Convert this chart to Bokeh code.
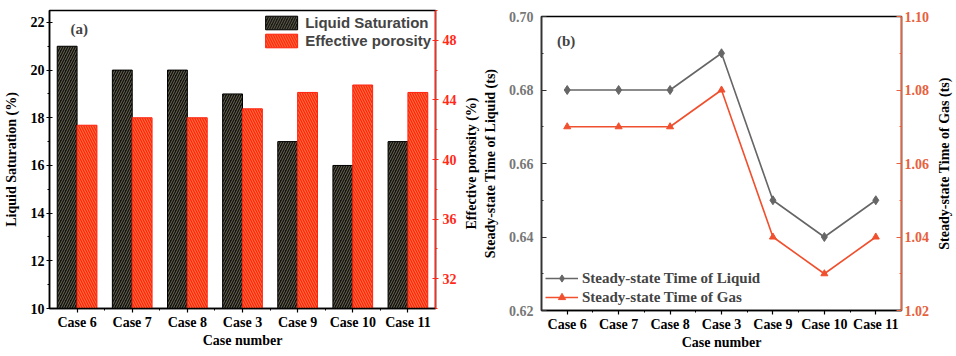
import math
from bokeh.plotting import figure
from bokeh.models import (Range1d, LinearAxis, FixedTicker, ColumnDataSource,
                          Label, Legend, Spacer, PrintfTickFormatter, Title)
from bokeh.layouts import row, column
from bokeh.transform import dodge
from bokeh.embed import file_html
from bokeh.resources import INLINE

cases = ["Case 6", "Case 7", "Case 8", "Case 3", "Case 9", "Case 10", "Case 11"]
liquid_saturation = [21, 20, 20, 19, 17, 16, 17]
effective_porosity = [42.3, 42.8, 42.8, 43.4, 44.5, 45.0, 44.5]
t_liquid = [0.68, 0.68, 0.68, 0.69, 0.65, 0.64, 0.65]
t_gas = [1.07, 1.07, 1.07, 1.08, 1.04, 1.03, 1.04]

pos = list(range(1, len(cases) + 1))
overrides = {p: c for p, c in zip(pos, cases)}
minor_x = [p + 0.5 for p in pos[:-1]]

SERIF = "Liberation Serif"
SANS = "Liberation Sans"

src = ColumnDataSource(dict(x=pos, ls=liquid_saturation, ep=effective_porosity,
                            tl=t_liquid, tg=t_gas))


def style_common(p):
    p.xgrid.visible = False
    p.ygrid.visible = False
    p.outline_line_color = "black"
    p.outline_line_width = 1.5
    p.background_fill_color = "white"
    p.border_fill_color = "white"


def style_axis(ax, color="black", label_color="black", tick_in=3, tick_out=3):
    ax.axis_line_color = color
    ax.axis_line_width = 1.5
    ax.major_tick_line_color = color
    ax.minor_tick_line_color = color
    ax.major_tick_line_width = 1.2
    ax.major_tick_in = tick_in
    ax.major_tick_out = tick_out
    ax.minor_tick_in = 0 if tick_out else 2
    ax.minor_tick_out = 2 if tick_out else 0
    ax.major_label_text_font = SERIF
    ax.major_label_text_font_style = "bold"
    ax.major_label_text_font_size = "14px"
    ax.major_label_text_color = label_color
    ax.major_label_standoff = 2
    ax.axis_label_text_font = SERIF
    ax.axis_label_text_font_style = "bold"
    ax.axis_label_text_font_size = "14px"
    ax.axis_label_text_color = "black"
    ax.axis_label_standoff = 2


def side_title(text):
    return Title(text=text, align="center", text_font=SERIF, text_font_style="bold",
                 text_font_size="14px", text_color="black", standoff=1, offset=0)


# ---------------- Panel (a) ----------------
p1 = figure(width=461, height=350, x_range=Range1d(0.5, 7.5), y_range=Range1d(10, 22.5),
            output_backend="svg", toolbar_location=None,
            min_border_left=48, min_border_right=26, min_border_top=10, min_border_bottom=42)
style_common(p1)
p1.extra_y_ranges = {"por": Range1d(30, 50)}

bw = 0.36
r1 = p1.vbar(x=dodge("x", -bw / 2, range=p1.x_range), top="ls", bottom=10, width=bw, source=src,
             fill_color="#111111", line_color="black",
             hatch_pattern="/", hatch_color="#6e6a52", hatch_scale=5, hatch_weight=1.0)
r2 = p1.vbar(x=dodge("x", bw / 2, range=p1.x_range), top="ep", bottom=30, width=bw, source=src,
             y_range_name="por",
             fill_color="#ff2410", line_color="#ff2410",
             hatch_pattern="\\", hatch_color="#ff7a40", hatch_scale=5, hatch_weight=1.0)

xa = p1.xaxis[0]
style_axis(xa, tick_in=0, tick_out=4)
xa.ticker = FixedTicker(ticks=pos, minor_ticks=minor_x)
xa.major_label_overrides = overrides
xa.axis_label = "Case number"
xa.axis_label_standoff = 0

ya = p1.yaxis[0]
style_axis(ya)
ya.ticker = FixedTicker(ticks=[10, 12, 14, 16, 18, 20, 22], minor_ticks=[11, 13, 15, 17, 19, 21])
ya.axis_label = "Liquid Saturation (%)"
ya.axis_label_standoff = 9

ra = LinearAxis(y_range_name="por")
style_axis(ra, color="#ff2a1a", label_color="#ff2a1a")
ra.major_label_standoff = 4
ra.ticker = FixedTicker(ticks=[32, 36, 40, 44, 48], minor_ticks=[30, 34, 38, 42, 46, 50])
p1.add_layout(ra, "right")

leg1 = Legend(items=[("Liquid Saturation", [r1]), ("Effective porosity", [r2])],
              location="top_right")
leg1.label_text_font = SANS
leg1.label_text_font_style = "bold"
leg1.label_text_font_size = "15px"
leg1.glyph_width = 40
leg1.glyph_height = 17
leg1.spacing = 1
leg1.padding = 0
leg1.margin = 4
leg1.label_standoff = 4
leg1.border_line_color = None
leg1.background_fill_alpha = 0
p1.add_layout(leg1)

p1.add_layout(Label(x=0.88, y=22.05, text="(a)", text_font=SERIF, text_font_style="bold",
                    text_font_size="15px", text_baseline="top"))

# ---------------- Panel (b) ----------------
p2 = figure(width=473, height=346, x_range=Range1d(0.5, 7.5), y_range=Range1d(0.62, 0.70),
            output_backend="svg", toolbar_location=None,
            min_border_left=77, min_border_right=33, min_border_top=10, min_border_bottom=42)
style_common(p2)
p2.extra_y_ranges = {"gas": Range1d(1.02, 1.10)}

gray = "#666666"
orange = "#f0502e"
l1 = p2.line("x", "tl", source=src, line_color=gray, line_width=1.6)
s1 = p2.scatter("x", "tl", source=src, marker="diamond", size=9, fill_color=gray, line_color=gray)
l2 = p2.line("x", "tg", source=src, y_range_name="gas", line_color=orange, line_width=1.6)
s2 = p2.scatter("x", "tg", source=src, y_range_name="gas", marker="triangle", size=7,
                fill_color=orange, line_color=orange)

xb = p2.xaxis[0]
style_axis(xb, tick_in=0, tick_out=4)
xb.ticker = FixedTicker(ticks=pos, minor_ticks=minor_x)
xb.major_label_overrides = overrides
xb.axis_label = "Case number"
xb.axis_label_standoff = 0

yb = p2.yaxis[0]
style_axis(yb, color="#333333", label_color="#777777", tick_in=5, tick_out=0)
yb.major_label_standoff = 8
yb.axis_label_standoff = 8
yb.ticker = FixedTicker(ticks=[0.62, 0.64, 0.66, 0.68, 0.70],
                        minor_ticks=[0.63, 0.65, 0.67, 0.69])
yb.formatter = PrintfTickFormatter(format="%.2f")
yb.axis_label = "Steady-state Time of Liquid (ts)"

# right-hand label of panel (a), read bottom-to-top, sits at the outer left of panel (b)
p2.add_layout(side_title("Effective porosity (%)"), "left")

rb = LinearAxis(y_range_name="gas")
style_axis(rb, color="#e8603c", label_color="#e8603c", tick_in=5, tick_out=0)
rb.major_label_standoff = 3
rb.ticker = FixedTicker(ticks=[1.02, 1.04, 1.06, 1.08, 1.10],
                        minor_ticks=[1.03, 1.05, 1.07, 1.09])
rb.formatter = PrintfTickFormatter(format="%.2f")
p2.add_layout(rb, "right")

leg2 = Legend(items=[("Steady-state Time of Liquid", [l1, s1]),
                     ("Steady-state Time of Gas", [l2, s2])],
              location="bottom_left")
leg2.label_text_font = SERIF
leg2.label_text_font_style = "bold"
leg2.label_text_font_size = "15px"
leg2.glyph_width = 33
leg2.glyph_height = 18
leg2.spacing = 1
leg2.padding = 0
leg2.margin = 4
leg2.label_standoff = 4
leg2.border_line_color = None
leg2.background_fill_alpha = 0
p2.add_layout(leg2)

p2.add_layout(Label(x=0.8, y=0.6955, text="(b)", text_font=SERIF, text_font_style="bold",
                    text_font_size="15px", text_baseline="top"))

# narrow strip carrying the right-hand label of panel (b), read bottom-to-top
p3 = figure(width=22, height=346, x_axis_type=None, y_axis_type=None,
            output_backend="svg", toolbar_location=None,
            min_border_left=0, min_border_right=0, min_border_top=10, min_border_bottom=42)
p3.xgrid.visible = False
p3.ygrid.visible = False
p3.outline_line_color = None
p3.background_fill_color = "white"
p3.border_fill_color = "white"
p3.title.visible = False
p3.add_layout(side_title("Steady-state Time of Gas (ts)"), "left")

layout = row(p1, column(Spacer(height=6), p2), column(Spacer(height=6), p3))
open("out.html", "w").write(file_html(layout, INLINE))
